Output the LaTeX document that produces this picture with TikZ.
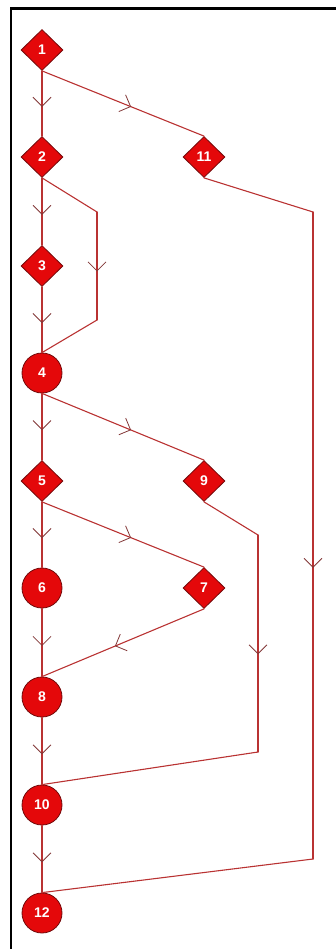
\documentclass[tikz,border=0pt]{standalone}
\usepackage{fontspec}
\setmainfont{Liberation Sans}
\usetikzlibrary{arrows.meta,shapes.geometric,decorations.markings}

\definecolor{nodered}{RGB}{228,8,10}
\definecolor{rimred}{RGB}{115,10,10}
\definecolor{flowred}{RGB}{185,50,50}
\definecolor{tipred}{RGB}{130,55,55}

\tikzset{
  decision/.style={diamond,fill=nodered,draw=rimred,line width=0.8pt,
    minimum width=42pt,minimum height=41pt,inner sep=0pt,text=white,
    font=\bfseries\fontsize{14}{14}\selectfont},
  junction/.style={circle,fill=nodered,draw=rimred,line width=0.8pt,
    minimum size=40pt,inner sep=0pt,text=white,
    font=\bfseries\fontsize{14}{14}\selectfont},
  flow/.style={draw=flowred,line width=1.1pt},
  midarrow/.style={flow,postaction={decorate},
    decoration={markings,mark=at position 0.55 with
      {\arrow[tipred,line width=0.8pt]{Straight Barb[length=9pt,width=18pt]}}}}
}

\begin{document}
\begin{tikzpicture}[x=1pt,y=-1pt,line cap=round]
  \useasboundingbox (0,0) rectangle (336,949);
  % frame
  \fill[black] (9.5,7.5) rectangle (336,10.5);
  \fill[black] (9.5,7.5) rectangle (12,949);

  % left column
  \node[decision] (n1) at (42,50) {1};
  \node[decision] (n2) at (42,157) {2};
  \node[decision] (n3) at (42,266) {3};
  \node[junction] (n4) at (42,373) {4};
  \node[decision] (n5) at (42,481) {5};
  \node[junction] (n6) at (42,588) {6};
  \node[junction] (n8) at (42,697) {8};
  \node[junction] (n10) at (42,805) {10};
  \node[junction] (n12) at (42,913) {12};
  % right column
  \node[decision] (n11) at (204,157) {11};
  \node[decision] (n9) at (204,481) {9};
  \node[decision] (n7) at (204,588) {7};

  % bends
  \coordinate (b2a) at (97,212);
  \coordinate (b2b) at (97,320);
  \coordinate (b11a) at (313,212);
  \coordinate (b11b) at (313,859);
  \coordinate (b9a) at (258,535);
  \coordinate (b9b) at (258,752);

  % straight flows
  \draw[midarrow] (n1.south) -- (n2.north);
  \draw[midarrow] (n2.south) -- (n3.north);
  \draw[midarrow] (n3.south) -- (n4.north);
  \draw[midarrow] (n4.south) -- (n5.north);
  \draw[midarrow] (n5.south) -- (n6.north);
  \draw[midarrow] (n6.south) -- (n8.north);
  \draw[midarrow] (n8.south) -- (n10.north);
  \draw[midarrow] (n10.south) -- (n12.north);
  \draw[midarrow] (n1.south) -- (n11.north);
  \draw[midarrow] (n4.south) -- (n9.north);
  \draw[midarrow] (n5.south) -- (n7.north);
  \draw[midarrow] (n7.south) -- (n8.north);

  % bent flows
  \draw[flow] (n2.south) -- (b2a) (b2b) -- (n4.north);
  \draw[midarrow] (b2a) -- (b2b);
  \draw[flow] (n11.south) -- (b11a) (b11b) -- (n12.north);
  \draw[midarrow] (b11a) -- (b11b);
  \draw[flow] (n9.south) -- (b9a) (b9b) -- (n10.north);
  \draw[midarrow] (b9a) -- (b9b);
\end{tikzpicture}
\end{document}
